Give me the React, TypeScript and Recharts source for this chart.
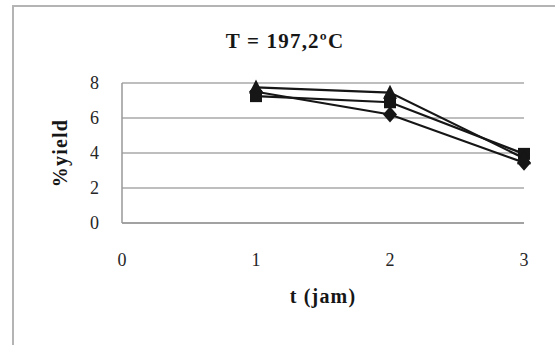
import { LineChart, Line, XAxis, YAxis, CartesianGrid, Label } from 'recharts'

const T_JAM = [1, 2, 3]
const DIAMOND = [7.5, 6.2, 3.45]
const SQUARE = [7.25, 6.9, 3.95]
const TRIANGLE = [7.75, 7.45, 3.7]
const X_TICKS = [0, 1, 2, 3]
const Y_TICKS = [0, 2, 4, 6, 8]

const SERIF = "'Liberation Serif', 'DejaVu Serif', serif"
const INK = '#161616'
const GRID = '#a8a8a8'
const TEXT = '#262626'

const data = T_JAM.map((t, i) => ({
  t,
  diamond: DIAMOND[i],
  square: SQUARE[i],
  triangle: TRIANGLE[i],
}))

const S = 7

function DiamondDot(p: any) {
  const { cx, cy } = p
  return <path key={`d-${cx}`} d={`M${cx},${cy - S - 1}L${cx + S},${cy}L${cx},${cy + S + 1}L${cx - S},${cy}Z`} fill={INK} />
}

function SquareDot(p: any) {
  const { cx, cy } = p
  return <rect key={`s-${cx}`} x={cx - S + 1} y={cy - S + 1} width={2 * S - 2} height={2 * S - 2} fill={INK} />
}

function TriangleDot(p: any) {
  const { cx, cy } = p
  return <path key={`t-${cx}`} d={`M${cx},${cy - S - 1}L${cx + S},${cy + S - 1}L${cx - S},${cy + S - 1}Z`} fill={INK} />
}

const tickStyle = { fill: TEXT, fontSize: 18, fontFamily: SERIF }
const boldLabel = { fontFamily: SERIF, fontWeight: 'bold', fontSize: 20, letterSpacing: 1.2, fill: INK }

export default function App() {
  return (
    <div style={{ position: 'absolute', left: 0, top: 0, width: 555, height: 345, background: '#fff', overflow: 'hidden', fontFamily: SERIF }}>
      <div
        style={{
          position: 'absolute',
          left: 12,
          top: 5,
          width: 600,
          height: 400,
          border: '2px solid #b4b4b4',
          boxSizing: 'border-box',
        }}
      />
      <div
        style={{
          position: 'absolute',
          left: 185,
          top: 29,
          width: 200,
          textAlign: 'center',
          fontFamily: SERIF,
          fontWeight: 'bold',
          fontSize: 21,
          letterSpacing: 1.2,
          color: INK,
        }}
      >
        T = 197,2ºC
      </div>
      <div style={{ position: 'absolute', left: 0, top: 0 }}>
        <LineChart
          width={555}
          height={345}
          data={data}
          margin={{ top: 83, right: 31, left: 58, bottom: 42 }}
          style={{ fontFamily: SERIF }}
        >
          <CartesianGrid vertical={false} stroke={GRID} strokeWidth={1.5} />
          <XAxis
            dataKey="t"
            type="number"
            domain={[0, 3]}
            ticks={X_TICKS}
            height={80}
            tickLine={false}
            tickSize={0}
            tickMargin={30}
            fontSize={18}
            axisLine={{ stroke: '#999', strokeWidth: 1.5 }}
            tick={tickStyle}
          >
            <Label value="t (jam)" position="insideBottom" offset={0} style={boldLabel} />
          </XAxis>
          <YAxis
            domain={[0, 8]}
            ticks={Y_TICKS}
            width={64}
            tickLine={false}
            tickSize={0}
            tickMargin={23}
            fontSize={18}
            axisLine={{ stroke: '#999', strokeWidth: 1.5 }}
            tick={tickStyle}
          >
            <Label
              value="%yield"
              angle={-90}
              position="insideLeft"
              offset={2}
              style={{ ...boldLabel, textAnchor: 'middle' }}
            />
          </YAxis>
          <Line dataKey="diamond" stroke={INK} strokeWidth={2.2} dot={DiamondDot} isAnimationActive={false} />
          <Line dataKey="square" stroke={INK} strokeWidth={2.2} dot={SquareDot} isAnimationActive={false} />
          <Line dataKey="triangle" stroke={INK} strokeWidth={2.2} dot={TriangleDot} isAnimationActive={false} />
        </LineChart>
      </div>
    </div>
  )
}
